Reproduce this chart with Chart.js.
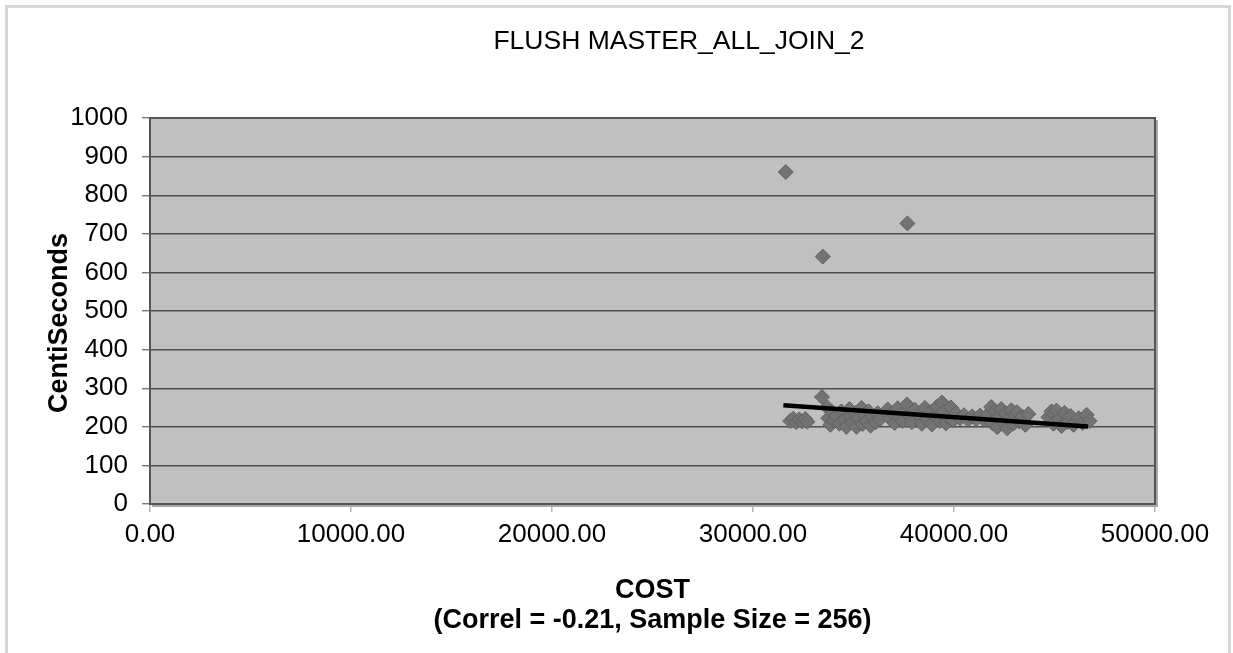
<!DOCTYPE html>
<html>
<head>
<meta charset="utf-8">
<script src="https://cdn.jsdelivr.net/npm/chart.js@4"></script>
<style>
  body { margin: 0; background: #fff; }
  canvas { display: block; }
</style>
</head>
<body>
<canvas id="chart" width="1233" height="653"></canvas>
<script>
// values
const cost = [
  31630, 33470, 37680, 33430,
  31850, 32000, 32150, 32300, 32450, 32600, 32700,
  33700, 33750, 33850, 33950, 34050, 34150, 34300, 34400, 34550, 34650, 34800, 34850, 34950,
  35100, 35150, 35250, 35400, 35450, 35550, 35650, 35750, 35850, 35950, 36100, 36200, 36300,
  36700, 36800, 36950, 37050, 37200, 37300, 37450, 37550, 37660, 37800, 37900, 38050,
  38300, 38400, 38550, 38650, 38800, 38900, 39050, 39150, 39300, 39400, 39500, 39600, 39700, 39850, 39950, 40100,
  40300, 40500, 40700, 40900, 41100, 41300, 41500,
  41700, 41850, 41900, 42050, 42150, 42250, 42350, 42450, 42550, 42650, 42750, 42850, 42950, 43050, 43130, 43250, 43400, 43550, 43700,
  44700, 44850, 44950, 45100, 45250, 45350, 45500, 45650, 45800, 45950,
  46200, 46400, 46600, 46750
];
const centiSeconds = [
  860, 641, 727, 277,
  215, 221, 212, 219, 214, 220, 213,
  250, 222, 205, 238, 215, 228, 208, 240, 219, 200, 246, 226, 211,
  236, 200, 222, 249, 207, 231, 215, 240, 203, 226, 212, 235, 219,
  245, 222, 236, 210, 248, 226, 215, 240, 258, 230, 212, 244,
  228, 208, 249, 219, 238, 206, 229, 252, 215, 263, 240, 209, 226, 250, 217, 235,
  222, 230, 218, 227, 220, 229, 218,
  232, 251, 210, 240, 199, 226, 246, 212, 235, 196, 222, 243, 208, 230, 238, 214, 226, 205, 233,
  225, 240, 208, 242, 220, 202, 236, 212, 228, 205,
  222, 210, 231, 215
];
const trendCost = [31510, 46670];
const trendCenti = [256, 201];
const xTicks = [0, 10000, 20000, 30000, 40000, 50000];
const yTicks = [0, 100, 200, 300, 400, 500, 600, 700, 800, 900, 1000];

const FONT = '"Liberation Sans", Arial, sans-serif';

const points = cost.map((c, i) => ({ x: c, y: centiSeconds[i] }));
const trend = trendCost.map((c, i) => ({ x: c, y: trendCenti[i] }));

const decor = {
  id: "decor",
  beforeDraw(chart) {
    const ctx = chart.ctx;
    const a = chart.chartArea;
    ctx.save();
    ctx.fillStyle = "#fff";
    ctx.fillRect(0, 0, chart.width, chart.height);
    ctx.strokeStyle = "#d6d6d6";
    ctx.lineWidth = 3;
    ctx.strokeRect(6.5, 6.5, 1223, 680);
    ctx.fillStyle = "#c0c0c0";
    ctx.fillRect(a.left, a.top, a.right - a.left, a.bottom - a.top);
    ctx.restore();
  },
  afterDraw(chart) {
    const ctx = chart.ctx;
    const a = chart.chartArea;
    ctx.save();
    // shadow on right/bottom
    ctx.strokeStyle = "#a8a8a8";
    ctx.lineWidth = 2;
    ctx.beginPath();
    ctx.moveTo(a.right + 2, a.top + 2);
    ctx.lineTo(a.right + 2, a.bottom + 2);
    ctx.lineTo(a.left + 2, a.bottom + 2);
    ctx.stroke();
    ctx.strokeStyle = "#555";
    ctx.lineWidth = 2;
    ctx.strokeRect(a.left, a.top, a.right - a.left, a.bottom - a.top);
    // chart title
    ctx.fillStyle = "#000";
    ctx.font = "26.5px " + FONT;
    ctx.textAlign = "center";
    ctx.textBaseline = "middle";
    ctx.fillText("FLUSH MASTER_ALL_JOIN_2", 679, 42);
    // y axis title
    ctx.translate(60, 323);
    ctx.rotate(-Math.PI / 2);
    ctx.font = "bold 27px " + FONT;
    ctx.fillText("CentiSeconds", 0, 0);
    ctx.restore();
  }
};

new Chart(document.getElementById("chart"), {
  data: {
    datasets: [
      {
        type: "line",
        data: trend,
        borderColor: "#000",
        borderWidth: 4.5,
        pointRadius: 0,
        fill: false,
        order: 0
      },
      {
        type: "scatter",
        data: points,
        pointStyle: "rectRot",
        pointRadius: 7.5,
        pointHoverRadius: 7.5,
        backgroundColor: "#737373",
        borderColor: "#626262",
        borderWidth: 1,
        order: 1
      }
    ]
  },
  options: {
    responsive: false,
    animation: false,
    layout: { padding: { left: 0, right: 78, top: 118, bottom: 0 } },
    plugins: {
      legend: { display: false },
      tooltip: { enabled: false },
      title: { display: false }
    },
    scales: {
      x: {
        type: "linear",
        min: 0,
        max: 50000,
        afterBuildTicks: (s) => { s.ticks = xTicks.map((v) => ({ value: v })); },
        afterFit: (s) => { s.height = 149; },
        ticks: {
          color: "#000",
          font: { family: FONT, size: 26 },
          padding: 7,
          maxRotation: 0,
          callback: (v) => Number(v).toFixed(2)
        },
        grid: { drawOnChartArea: false, tickLength: 8, color: "#b5b5b5", lineWidth: 1.5 },
        border: { display: false },
        title: {
          display: true,
          text: ["COST", "(Correl = -0.21, Sample Size = 256)"],
          color: "#000",
          font: { family: FONT, size: 27, weight: "bold", lineHeight: 1.1 },
          padding: { top: 0, bottom: 18 }
        }
      },
      y: {
        type: "linear",
        min: 0,
        max: 1000,
        afterBuildTicks: (s) => { s.ticks = yTicks.map((v) => ({ value: v })); },
        afterFit: (s) => { s.width = 150; },
        ticks: {
          color: "#000",
          font: { family: FONT, size: 26 },
          padding: 14,
          callback: (v) => String(v)
        },
        grid: { color: "#4f4f4f", lineWidth: 1.4, tickLength: 8, tickColor: "#777" },
        border: { display: false }
      }
    }
  },
  plugins: [decor]
});
</script>
</body>
</html>
